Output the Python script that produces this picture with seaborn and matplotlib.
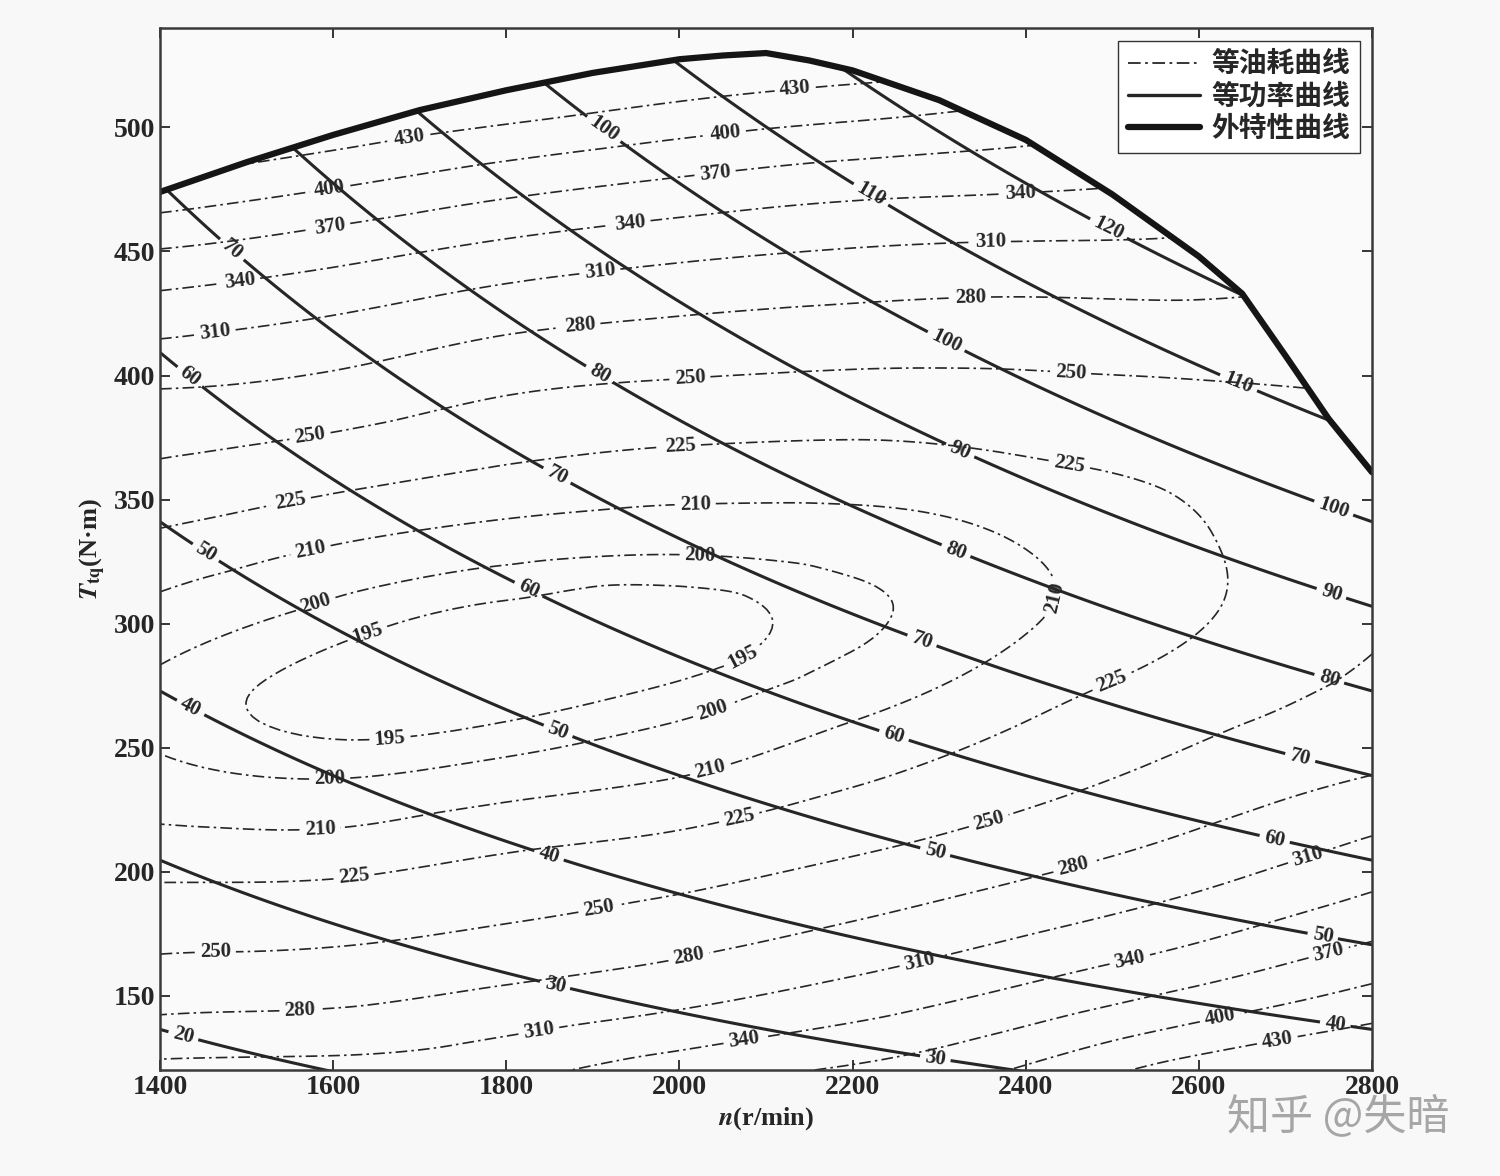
import numpy as np
import pandas as pd
import matplotlib
matplotlib.use("Agg")
import matplotlib.pyplot as plt
import matplotlib.tri as mtri
from matplotlib.lines import Line2D
from matplotlib.patches import Polygon
import seaborn as sns

# external characteristic (full load) curve
extSpeed = [1400, 1500, 1600, 1700, 1800, 1900, 2000, 2050, 2100, 2150, 2200, 2300,
            2400, 2500, 2600, 2650, 2700, 2750, 2800]
extTorque = [474, 486, 497, 507, 515, 522, 527.5, 529, 530, 527, 523, 511,
             495, 473, 448, 433, 408, 382.5, 361]

# grid where the fuel consumption (g/kWh) was read
speedGrid = [1400, 1600, 1800, 2000, 2200, 2400, 2600, 2800]
torqueGrid = [120, 150, 180, 210, 240, 270, 300, 330, 360, 390, 420, 450, 480, 510, 540]
bsfcRows = [
    [318, 320, 331, 356, 374, 404, 445, 466],   # 120
    [269, 273, 286, 301, 322, 348, 378, 409],   # 150
    [238, 240, 249, 262, 280, 302, 327, 357],   # 180
    [215, 215, 223, 231, 246, 265, 288, 316],   # 210
    [202, 199, 203, 209, 221, 238, 259, 279],   # 240
    [198, 193, 193, 197, 206, 220, 238, 258],   # 270
    [205, 197, 193, 192, 198.5, 209, 224, 246],  # 300
    [219, 209, 203, 201, 203, 210, 223, 240],   # 330
    [244, 232, 222, 217, 216, 221, 229, 243],   # 360
    [274, 265, 248, 241, 238, 240, 244, 249],   # 390
    [318, 304, 285, 275, 269, 267, 269, 265],   # 420
    [368, 351, 331, 317, 308, 304, 302, 290],   # 450
    [430, 409, 387, 370, 357, 350, 340, 320],   # 480
    [490, 466, 448, 429, 415, 400, 380, 350],   # 510
    [550, 525, 510, 490, 475, 460, 420, 385],   # 540
]
bsfcLevels = [195, 200, 210, 225, 250, 280, 310, 340, 370, 400, 430]
powerLevels = [20, 30, 40, 50, 60, 70, 80, 90, 100, 110, 120]

xTicks = [1400, 1600, 1800, 2000, 2200, 2400, 2600, 2800]
yTicks = [150, 200, 250, 300, 350, 400, 450, 500]
legendLabels = ["等油耗曲线", "等功率曲线", "外特性曲线"]

# where the contour labels sit (layout only)
bsfcLabelSpots = [
    (1689, 495), (2134, 514), (2691, 131),
    (1596, 476), (2053, 498), (2625, 140),
    (1596, 460), (2041, 482), (2752, 164),
    (1492, 438), (1943, 461), (2394, 474), (2521, 163), (2076, 128),
    (1464, 416), (1908, 442), (2359, 454), (2729, 202), (2278, 163), (1839, 132),
    (1885, 420), (2336, 432), (2457, 199), (2012, 163), (1562, 141),
    (1573, 377), (2012, 399), (2452, 403), (2359, 218), (1908, 182), (1464, 163),
    (1550, 351), (2001, 372), (2452, 367), (2504, 272), (2070, 220), (1625, 194),
    (1573, 331), (2018, 351), (2428, 311), (2036, 240), (1585, 215),
    (1579, 309), (2024, 329), (2041, 262), (1596, 236),
    (1637, 299), (2064, 294), (1666, 252),
]
powerLabelSpots = [
    (1427, 134), (1856, 154), (2296, 126),
    (1435, 266), (1848, 205), (2758, 140),
    (1450, 327), (1859, 256), (2296, 209), (2743, 174),
    (1429, 397), (1822, 311), (2247, 254), (2688, 214),
    (1472, 446), (1856, 358), (2278, 291), (2717, 246),
    (1905, 399), (2319, 329), (2750, 277),
    (2322, 368), (2752, 311),
    (1908, 497), (2307, 413), (2758, 349),
    (2218, 471), (2648, 399),
    (2498, 461),
]

INK = "#262626"

sns.set_theme(style="ticks")
plt.rcParams.update({
    "font.family": ["Liberation Serif", "Noto Sans CJK SC", "DejaVu Sans"],
    "font.weight": "bold",
    "mathtext.fontset": "stix",
    "xtick.direction": "in", "ytick.direction": "in",
    "xtick.top": True, "ytick.right": True,
    "xtick.major.size": 7, "ytick.major.size": 7,
    "xtick.major.width": 1.3, "ytick.major.width": 1.3,
    "axes.edgecolor": "#3a3a3a", "axes.linewidth": 1.8,
    "xtick.labelsize": 20, "ytick.labelsize": 20,
    "xtick.color": INK, "ytick.color": INK,
})

fig = plt.figure(figsize=(15, 11.76), dpi=100, facecolor="#f8f8f8")
ax = fig.add_axes([0.1067, 0.090, 0.808, 0.886], facecolor="#fafafa")

# region under the full load curve, everything is clipped to it
clipPoly = Polygon(list(zip(extSpeed, extTorque)) + [(2800, 100), (1400, 100)],
                   closed=True, transform=ax.transData, facecolor="none", edgecolor="none")
ax.add_patch(clipPoly)

# ---- equal fuel consumption contours
nn, tt = np.meshgrid(speedGrid, torqueGrid)
z = np.array(bsfcRows, dtype=float).ravel()
triUnit = mtri.Triangulation(nn.ravel() / 200.0, tt.ravel() / 30.0)
triFineUnit, zFine = mtri.UniformTriRefiner(triUnit).refine_field(z, subdiv=4)
triFine = mtri.Triangulation(triFineUnit.x * 200.0, triFineUnit.y * 30.0, triFineUnit.triangles)
xc = triFine.x[triFine.triangles].mean(axis=1)
yc = triFine.y[triFine.triangles].mean(axis=1)
triFine.set_mask(yc > np.interp(xc, extSpeed, extTorque))

csB = ax.tricontour(triFine, zFine, levels=bsfcLevels, colors=INK,
                    linewidths=1.2, linestyles=[(0, (7, 2.5, 1.5, 2.5))])
csB.set_clip_path(clipPoly)
for txt in ax.clabel(csB, fmt="%d", fontsize=15, inline=True, inline_spacing=5,
                     manual=bsfcLabelSpots):
    txt.set_clip_path(clipPoly)

# ---- equal power contours (P = T n / 9550)
nm, tm = np.meshgrid(np.linspace(1400, 2800, 400), np.linspace(100, 540, 400))
pw = np.ma.masked_where(tm > np.interp(nm, extSpeed, extTorque) + 2, nm * tm / 9550.0)
csP = ax.contour(nm, tm, pw, levels=powerLevels, colors=INK, linewidths=2.2)
csP.set_clip_path(clipPoly)
for txt in ax.clabel(csP, fmt="%d", fontsize=15, inline=True, inline_spacing=5,
                     manual=powerLabelSpots):
    txt.set_clip_path(clipPoly)

# ---- external characteristic curve
extDF = pd.DataFrame({"n": extSpeed, "T": extTorque})
sns.lineplot(data=extDF, x="n", y="T", color="#151515", linewidth=4.5, ax=ax, sort=True)

ax.set_xlim(1400, 2800)
ax.set_ylim(120, 540)
ax.set_xticks(xTicks)
ax.set_yticks(yTicks)
ax.set_xlabel(r"$n$(r/min)", fontsize=19, fontweight="bold", color=INK)
ax.set_ylabel(r"$T_{\mathrm{tq}}$(N·m)", fontsize=19, fontweight="bold", color=INK)

handles = [
    Line2D([], [], color=INK, linewidth=1.3, linestyle=(0, (7, 2.5, 1.5, 2.5))),
    Line2D([], [], color=INK, linewidth=2.4),
    Line2D([], [], color="#151515", linewidth=4.5),
]
ax.legend(handles, legendLabels, loc="upper right", frameon=True, fancybox=False,
          edgecolor="#333333", framealpha=1, handlelength=2.6, handletextpad=0.4,
          borderpad=0.35, borderaxespad=0.45, labelspacing=0.15,
          prop={"family": "Noto Sans CJK SC", "weight": "bold", "size": 20})

fig.text(0.818, 0.040, "知乎 @失暗", fontsize=31, color="#a6a6a6",
         family=["Noto Sans CJK SC", "DejaVu Sans"], fontweight="normal")

fig.savefig("out.png", dpi=100, facecolor=fig.get_facecolor())
